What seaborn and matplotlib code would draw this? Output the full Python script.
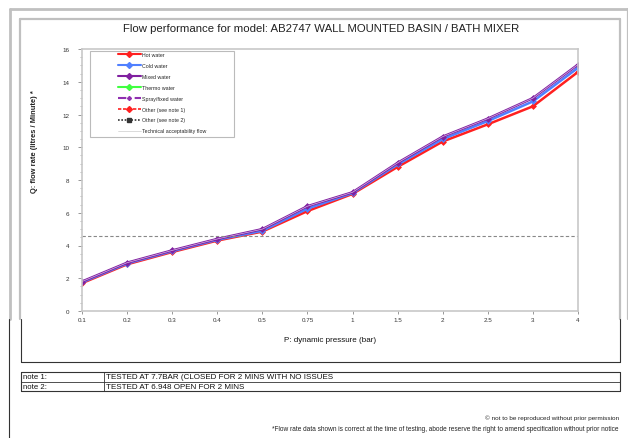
import matplotlib
matplotlib.use("Agg")
import matplotlib.pyplot as plt
from matplotlib.lines import Line2D
from matplotlib.patches import Rectangle
import seaborn as sns
import numpy as np
import pandas as pd

sns.set_theme(style="white")
plt.rcParams['font.family'] = ['Liberation Sans', 'DejaVu Sans']

pressure_labels = ["0.1", "0.2", "0.3", "0.4", "0.5", "0.75", "1", "1.5", "2", "2.5", "3", "4"]
hot_water = [1.7, 2.85, 3.6, 4.3, 4.85, 6.1, 7.15, 8.8, 10.35, 11.4, 12.5, 14.6]
cold_water = [1.75, 2.9, 3.65, 4.35, 4.9, 6.25, 7.2, 8.95, 10.5, 11.6, 12.8, 14.85]
mixed_water = [1.8, 2.95, 3.7, 4.4, 5.0, 6.4, 7.25, 9.05, 10.65, 11.75, 13.0, 15.05]
acceptability_flow = 4.6

title = "Flow performance for model: AB2747 WALL MOUNTED BASIN / BATH MIXER"
legend_labels = ["Hot water", "Cold water", "Mixed water", "Thermo water", "Spray/fixed water",
                 "Other (see note 1)", "Other (see note 2)", "Technical acceptability flow"]
notes = [("note 1:", "TESTED AT 7.7BAR (CLOSED FOR 2 MINS WITH NO ISSUES"),
         ("note 2:", "TESTED AT 6.948 OPEN FOR 2 MINS")]
footer1 = "\u00a9 not to be reproduced without prior permission"
footer2 = "*Flow rate data shown is correct at the time of testing, abode reserve the right to amend specification without prior notice"

W, H = 628, 439
fig = plt.figure(figsize=(W / 100, H / 100), dpi=100)
fig.patch.set_facecolor("white")

def fx(x):
    return x / W

def fy(y):
    return 1 - y / H

AX_L, AX_R, AX_T, AX_B = 82, 578, 50, 312
ax = fig.add_axes([fx(AX_L), fy(AX_B), fx(AX_R) - fx(AX_L), fy(AX_T) - fy(AX_B)])

def axc(x, y):
    return ((x - AX_L) / (AX_R - AX_L), (AX_B - y) / (AX_B - AX_T))

idx = np.arange(len(pressure_labels))
df = pd.DataFrame({
    "idx": np.tile(idx, 3),
    "flow": hot_water + cold_water + mixed_water,
    "series": ["Hot water"] * 12 + ["Cold water"] * 12 + ["Mixed water"] * 12,
})
palette = {"Hot water": "#ff2020", "Cold water": "#5080ff", "Mixed water": "#8020a0"}
for name in ["Hot water", "Cold water", "Mixed water"]:
    sub = df[df.series == name]
    sns.lineplot(data=sub, x="idx", y="flow", color=palette[name], lw=1.8,
                 marker="D", markersize=3.5, markeredgewidth=0, ax=ax, legend=False)
sub = df[df.series == "Mixed water"]
sns.lineplot(data=sub, x="idx", y="flow", color="#d8b8e8", lw=0.5, ax=ax, legend=False)

ax.axhline(acceptability_flow, color="#888888", lw=0.8, ls=(0, (3, 2)))

ax.set_xlim(0, len(pressure_labels) - 1)
ax.set_ylim(0, 16)
ax.set_xticks(idx)
ax.set_xticklabels(pressure_labels, fontsize=4.5, color="#333333")
ax.set_yticks(np.arange(0, 17, 2))
ax.set_yticklabels([str(v) for v in range(0, 17, 2)], fontsize=4.5, color="#333333")
ax.set_yticks(np.arange(0, 16.01, 0.5), minor=True)
ax.tick_params(axis="y", which="major", length=3, width=0.6, color="#888888", pad=6, left=True)
ax.tick_params(axis="y", which="minor", length=1.5, width=0.4, color="#888888", left=True)
ax.tick_params(axis="x", which="major", length=2, width=0.6, color="#888888", pad=2, bottom=True)
ax.set_xlabel("")
ax.set_ylabel("")
for s in ax.spines.values():
    s.set_color("#c8c8c8")
    s.set_linewidth(1.2)

# legend frame (drawn separately so its size matches the reference)
x0, y0 = axc(90, 138)
x1, y1 = axc(234, 52)
ax.add_patch(Rectangle((x0, y0), x1 - x0, y1 - y0, transform=ax.transAxes,
                       facecolor="white", edgecolor="#bbbbbb", lw=0.8, zorder=4))

handles = [
    Line2D([], [], color="#ff2020", lw=1.5, marker="D", ms=3),
    Line2D([], [], color="#5080ff", lw=1.5, marker="D", ms=3),
    Line2D([], [], color="#8020a0", lw=1.5, marker="D", ms=3),
    Line2D([], [], color="#40ff40", lw=1.5, marker="D", ms=3),
    Line2D([], [], color="#9030b0", lw=1.5, ls=(0, (4, 4)), marker="D", ms=2),
    Line2D([], [], color="#ff2020", lw=1.2, ls=(0, (2, 1)), marker="D", ms=3),
    Line2D([], [], color="#333333", lw=1.2, ls=(0, (1, 1)), marker="s", ms=2.5),
    Line2D([], [], color="#cccccc", lw=0.5),
]
lx, ly = axc(118, 53)
leg = ax.legend(handles, legend_labels, loc="upper left", bbox_to_anchor=(lx, ly),
                fontsize=3.8, frameon=False, handlelength=4.3, borderpad=0,
                labelspacing=1.12, handletextpad=0.2, borderaxespad=0)
leg.set_zorder(5)

fig.text(fx(321), fy(29), title, ha="center", va="center", fontsize=8.2, color="#222222")
fig.text(fx(35), fy(142), "Q: flow rate (litres / Minute) *", rotation=90, ha="center",
         va="center", fontsize=5.4, fontweight="bold", color="#222222")
fig.text(fx(330), fy(341), "P: dynamic pressure (bar)", ha="center", va="center",
         fontsize=5.8, color="#111111")

def fline(x0, y0, x1, y1, color, lw):
    fig.add_artist(Line2D([fx(x0), fx(x1)], [fy(y0), fy(y1)], color=color, lw=lw,
                          transform=fig.transFigure))

# outer grey frame
fline(10, 10, 628, 10, "#c0c0c0", 2.0)
fline(10, 10, 10, 320, "#c0c0c0", 2.0)
fline(9, 320, 9, 439, "#333333", 0.8)
# inner grey frame
fline(20, 20, 620, 20, "#c0c0c0", 1.6)
fline(20, 20, 20, 320, "#c0c0c0", 1.6)
fline(620, 20, 620, 320, "#c0c0c0", 1.6)
fline(628, 10, 628, 320, "#c0c0c0", 1.6)
# x-label box
fline(21, 320, 21, 363, "#333333", 0.8)
fline(620, 320, 620, 363, "#333333", 0.8)
fline(21, 363, 620, 363, "#333333", 0.8)

# notes table
fline(21, 373, 620, 373, "#333333", 0.8)
fline(21, 383, 620, 383, "#333333", 0.6)
fline(21, 392, 620, 392, "#333333", 0.8)
fline(21, 373, 21, 392, "#333333", 0.8)
fline(620, 373, 620, 392, "#333333", 0.8)
fline(104, 373, 104, 392, "#333333", 0.6)
for i, (n, t) in enumerate(notes):
    yc = 378 + 9.5 * i
    fig.text(fx(23), fy(yc), n, ha="left", va="center", fontsize=5.6, color="#111111")
    fig.text(fx(106), fy(yc), t, ha="left", va="center", fontsize=5.8, color="#111111")

fig.text(fx(619), fy(418), footer1, ha="right", va="center", fontsize=4.6, color="#222222")
fig.text(fx(619), fy(430), footer2, ha="right", va="center", fontsize=4.7, color="#222222")

fig.savefig("out.png", dpi=100, facecolor="white")
